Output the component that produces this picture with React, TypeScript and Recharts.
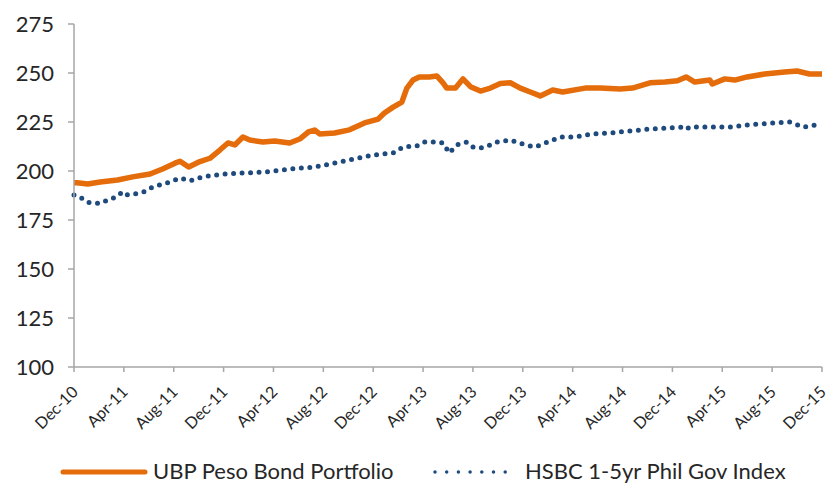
import { Line, LineChart, XAxis, YAxis } from "recharts";

const tickMonths = [0, 4, 8, 12, 16, 20, 24, 28, 32, 36, 40, 44, 48, 52, 56, 60];
const tickLabels = [
    "Dec-10", "Apr-11", "Aug-11", "Dec-11", "Apr-12", "Aug-12", "Dec-12", "Apr-13",
    "Aug-13", "Dec-13", "Apr-14", "Aug-14", "Dec-14", "Apr-15", "Aug-15", "Dec-15",
];
const yTicks = [100, 125, 150, 175, 200, 225, 250, 275];

/** UBP Peso Bond Portfolio, months since Dec-10. */
const bondMonths = [
    0, 0.25, 1.1, 2.1, 3.5, 4.7, 6.1, 7.1, 8.1, 8.5, 9.2, 10.1, 10.9, 11.7, 12.35, 12.9, 13.55, 14.1,
    15.15, 16.1, 17.3, 18.1, 18.8, 19.3, 19.7, 20.9, 22.1, 23.3, 24.4, 24.9, 25.6, 26.3, 26.7, 27.2,
    27.7, 28.5, 29.1, 29.6, 29.9, 30.6, 31.2, 31.8, 32.6, 33.4, 34.2, 35, 35.8, 36.6, 37.4, 38.4, 39.2,
    41, 42.2, 43.8, 44.8, 46.2, 47.4, 48.4, 49.1, 49.8, 51, 51.2, 52.2, 53, 54, 55.4, 57, 58, 59, 60,
];
const bondValues = [
    194, 194, 193.4, 194.4, 195.4, 197, 198.5, 201, 204, 205, 202, 204.8, 206.5, 210.7, 214.3, 213.3, 217.3, 215.8,
    214.8, 215.3, 214.3, 216.3, 219.9, 220.9, 218.9, 219.4, 221, 224.5, 226.5, 229.6, 232.6, 235.2, 242.3, 246.4,
    248, 248, 248.5, 245, 242.3, 242.3, 247, 243, 240.8, 242.3, 244.6, 245, 242.3, 240.3, 238.3, 241.3, 240.3,
    242.3, 242.3, 241.8, 242.3, 245, 245.4, 246, 248, 245.4, 246.4, 244.4, 247, 246.4, 248, 249.5, 250.5, 251, 249.5, 249.5,
];

/** HSBC 1-5yr Phil Gov Index, months since Dec-10. */
const indexMonths = [
    0, 0.64, 1.1, 2.1, 2.65, 3.45, 3.9, 4.3, 5.5, 6.3, 7.7, 8.5, 9.3, 10.3, 12.1, 13.7, 15.3, 17.3,
    19.3, 21.3, 22.4, 23.9, 25.6, 26.4, 27.5, 28.1, 29.1, 29.6, 30.1, 30.7, 31.5, 32, 32.6, 33.4, 33.9,
    35, 36.2, 37, 37.8, 39, 40.2, 41.4, 43, 44.6, 46.2, 47.8, 48.8, 49.1, 49.4, 51, 52.6, 53.8, 55,
    57.4, 58.5, 59.4, 60,
];
const indexValues = [
    187.8, 186, 184, 183.5, 185, 187, 189.5, 187.8, 189, 191.8, 194.4, 196.4, 195, 197, 198.5, 199, 199.5, 201,
    202, 204.6, 206, 208, 209.2, 212.3, 212.8, 214.8, 214.8, 214.3, 209.2, 213.3, 214.8, 212.3, 211.7, 213.3, 214.8,
    215.8, 213.3, 212.3, 214.3, 217.3, 217.3, 218.8, 219.4, 220.4, 221.4, 222, 222.3, 221.2, 222.5, 222.4, 222.4, 223.4, 224,
    225, 222.4, 223.4, 222.4,
];

const bondData = bondMonths.map((month, i) => ({ month, bond: bondValues[i] }));
const indexData = indexMonths.map((month, i) => ({ month, index: indexValues[i] }));

const ORANGE = "#E46C0A";
const NAVY = "#1F4A7D";
const AXIS = "#A6A6A6";
const FONT = "Lato, 'Open Sans', sans-serif";

const DateTick = ({ x, y, payload }: { x: number; y: number; payload: { value: number } }) => {
    const label = tickLabels[tickMonths.indexOf(payload.value)] ?? "";
    const ax = x + 5;
    const ay = y + 19;
    return (
        <text x={ax} y={ay} transform={`rotate(-45 ${ax} ${ay})`} textAnchor="end" fill="#262626" fontSize={16} fontFamily={FONT}>
            {label}
        </text>
    );
};

export default function App() {
    return (
        <div style={{ position: "relative", width: 830, height: 484, background: "#fff", fontFamily: FONT, overflow: "hidden" }}>
            <style>{"body{margin:0}"}</style>
            <LineChart width={830} height={484} margin={{ top: 24, right: 8, bottom: 0, left: 0 }}>
                <XAxis
                    dataKey="month"
                    type="number"
                    domain={[0, 60]}
                    ticks={tickMonths}
                    interval={0}
                    height={117}
                    tickSize={5}
                    axisLine={{ stroke: AXIS, strokeWidth: 1.5 }}
                    tickLine={{ stroke: AXIS, strokeWidth: 1.5 }}
                    tick={DateTick}
                />
                <YAxis
                    type="number"
                    domain={[100, 275]}
                    ticks={yTicks}
                    interval={0}
                    width={74}
                    tickSize={6}
                    tickMargin={14}
                    axisLine={{ stroke: AXIS, strokeWidth: 1.5 }}
                    tickLine={{ stroke: AXIS, strokeWidth: 1.5 }}
                    tick={{ fill: "#262626", fontSize: 22, fontFamily: FONT }}
                />
                <Line
                    data={indexData}
                    dataKey="index"
                    type="linear"
                    stroke={NAVY}
                    strokeWidth={5}
                    strokeDasharray="0 8.5"
                    strokeLinecap="round"
                    dot={false}
                    activeDot={false}
                    isAnimationActive={false}
                />
                <Line
                    data={bondData}
                    dataKey="bond"
                    type="linear"
                    stroke={ORANGE}
                    strokeWidth={5.5}
                    strokeLinejoin="round"
                    dot={false}
                    activeDot={false}
                    isAnimationActive={false}
                />
            </LineChart>

            <div style={{ position: "absolute", left: 0, top: 458, width: 830, height: 26, fontSize: 22, color: "#262626", whiteSpace: "nowrap" }}>
                <svg width={90} height={12} style={{ position: "absolute", left: 60, top: 8 }}>
                    <line x1={3} y1={6} x2={85} y2={6} stroke={ORANGE} strokeWidth={5} strokeLinecap="round" />
                </svg>
                <span style={{ position: "absolute", left: 153, top: 0, lineHeight: "26px" }}>UBP Peso Bond Portfolio</span>
                <svg width={80} height={12} style={{ position: "absolute", left: 432, top: 8 }}>
                    <line x1={3} y1={6} x2={75} y2={6} stroke={NAVY} strokeWidth={3.5} strokeDasharray="0 11.7" strokeLinecap="round" />
                </svg>
                <span style={{ position: "absolute", left: 525, top: 0, lineHeight: "26px" }}>HSBC 1-5yr Phil Gov Index</span>
            </div>
        </div>
    );
}
